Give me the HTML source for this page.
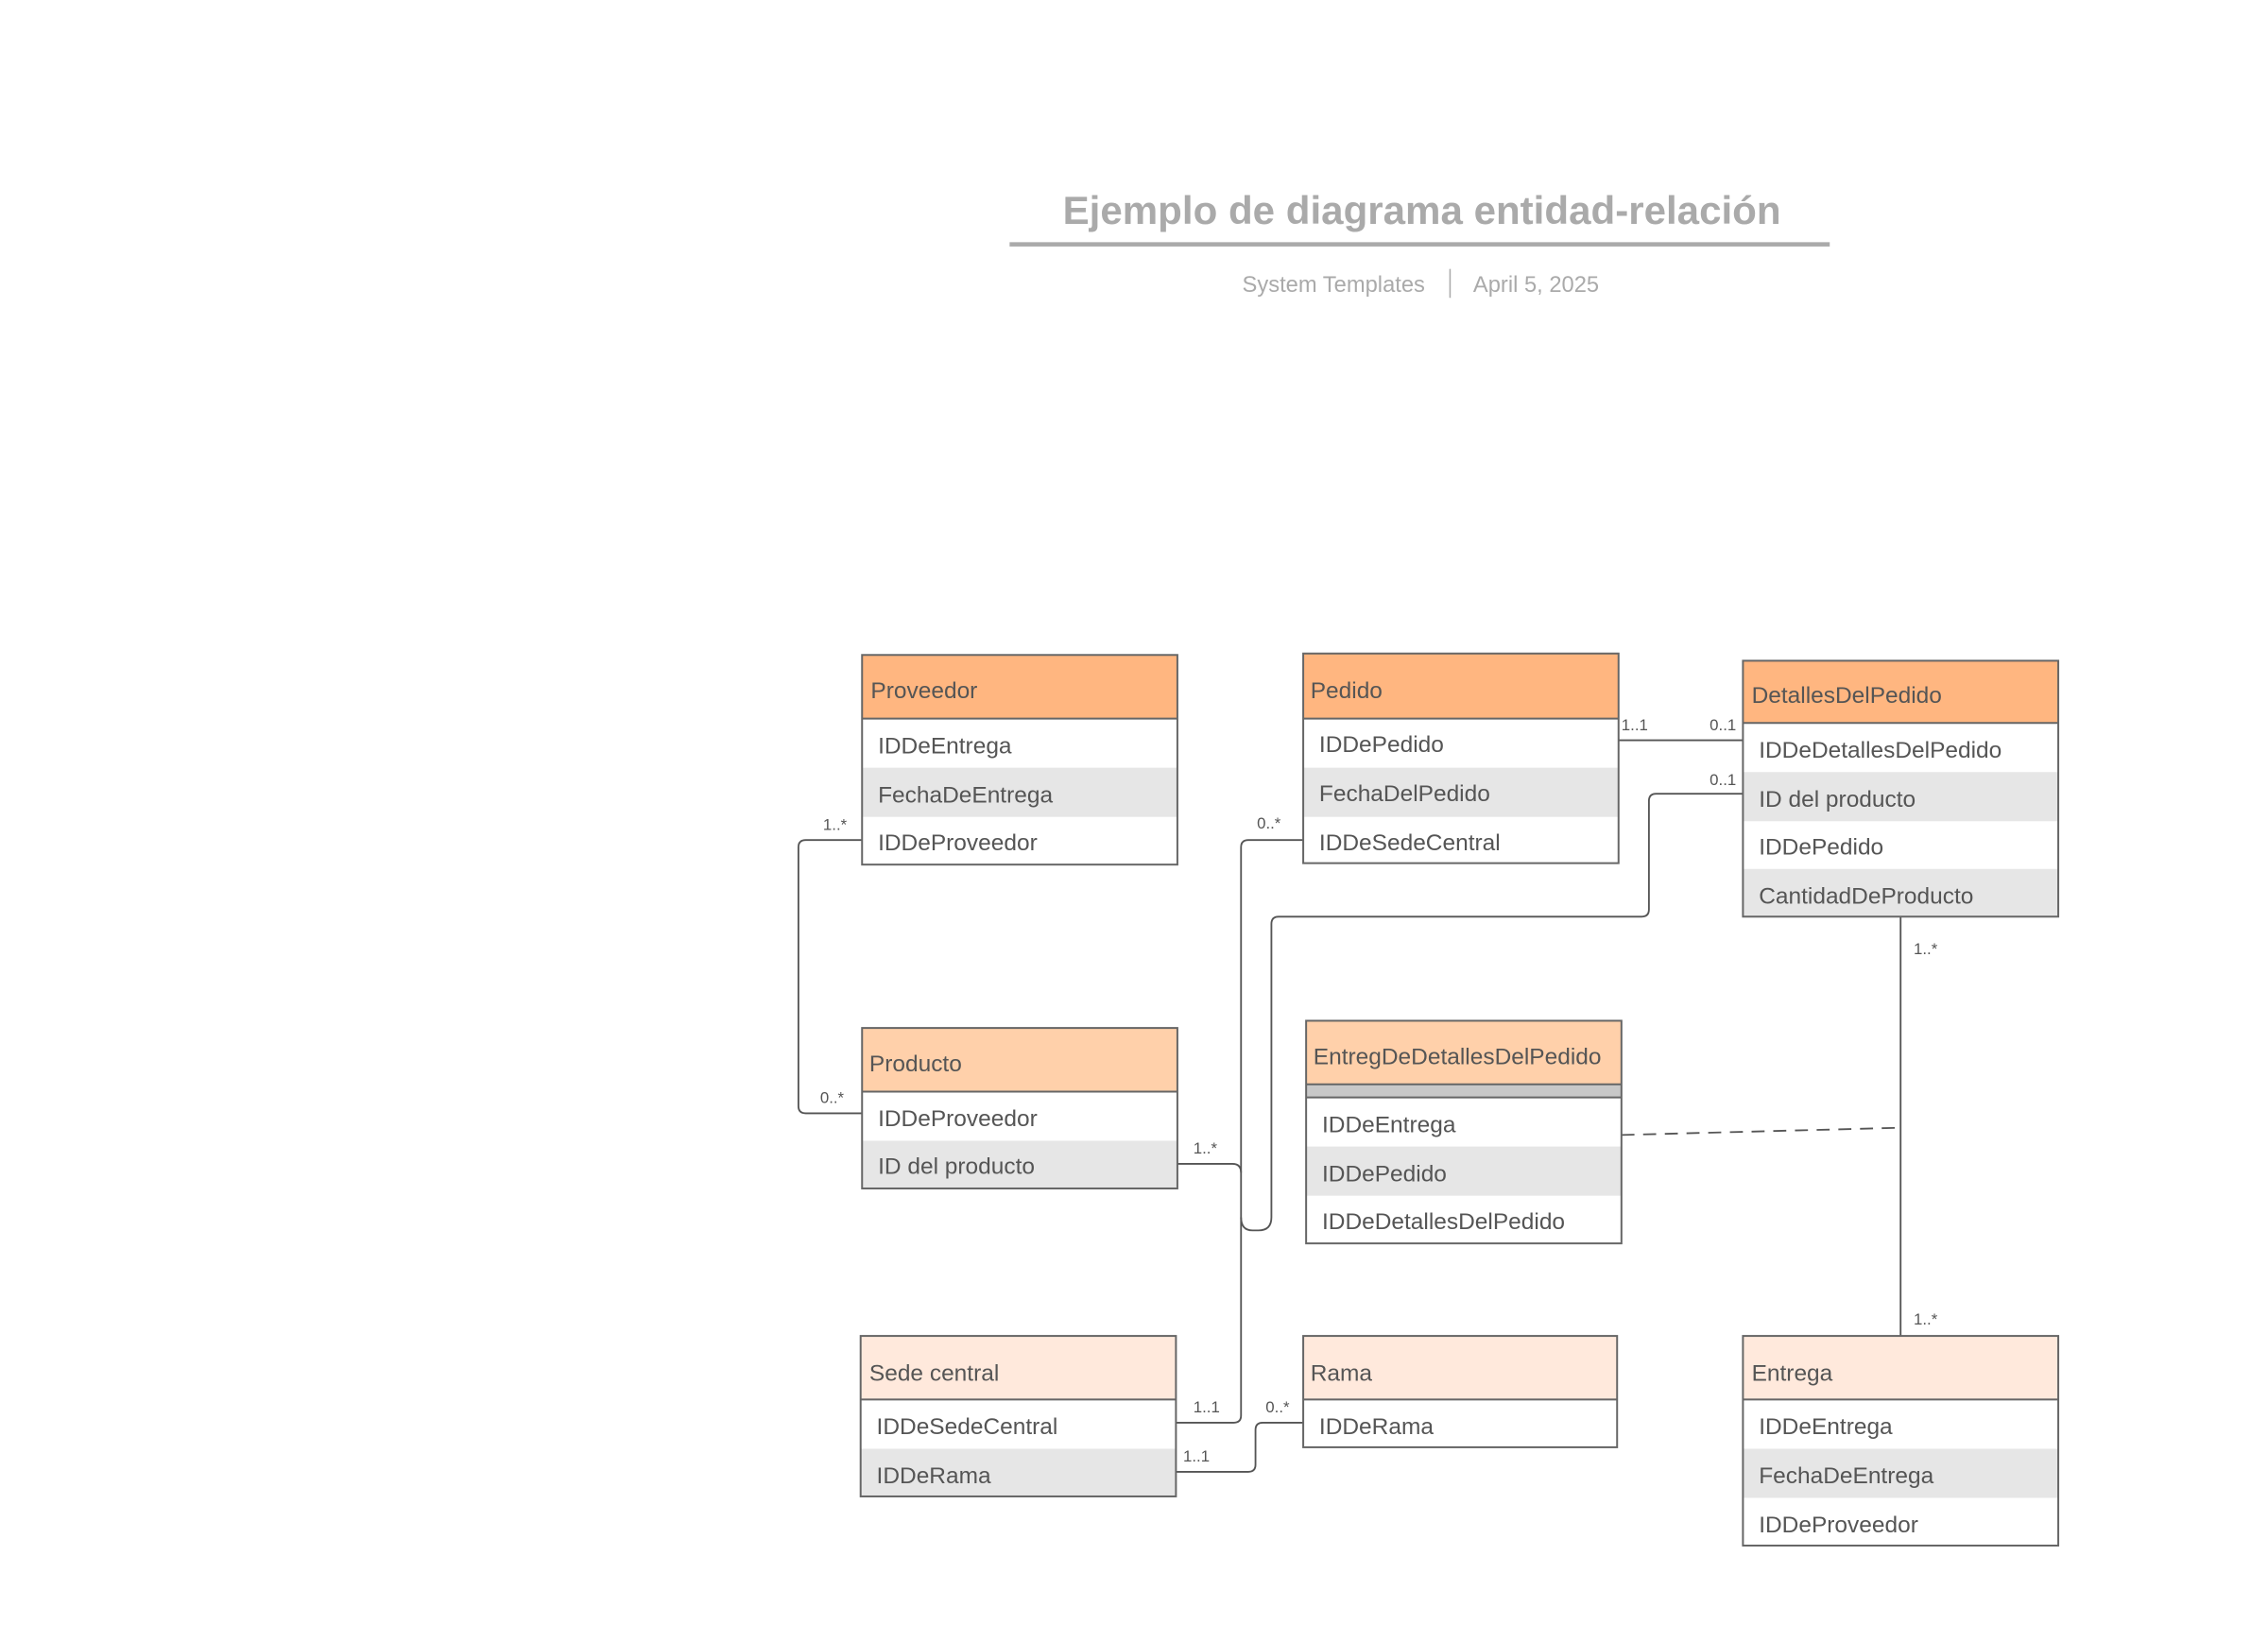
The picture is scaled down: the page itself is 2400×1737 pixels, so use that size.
<!DOCTYPE html>
<html><head><meta charset="utf-8"><style>
html,body{margin:0;padding:0;background:#fff;}
svg{display:block;}
text{font-family:"Liberation Sans",sans-serif;}
.h{font-size:16px;fill:#555;}
.r{font-size:16px;fill:#555;}
.l{font-size:11px;fill:#555;}
.b{stroke:#666;stroke-width:1.3;fill:none;}
.c{stroke:#555;stroke-width:1.2;fill:none;}
</style></head><body>
<svg width="2400" height="1737" viewBox="0 0 1568 1135" preserveAspectRatio="none" xmlns="http://www.w3.org/2000/svg">
<rect width="1568" height="1135" fill="#fff"/>
<text x="983" y="155" text-anchor="middle" font-size="27.5" font-weight="bold" fill="#aaa">Ejemplo de diagrama entidad-relación</text>
<rect x="698" y="167.5" width="567" height="3" fill="#aaa"/>
<text x="922" y="202" text-anchor="middle" font-size="15.5" fill="#aaa">System Templates</text>
<rect x="1002" y="186" width="1" height="20" fill="#aaa"/>
<text x="1062" y="202" text-anchor="middle" font-size="15.5" fill="#aaa">April 5, 2025</text>

<path class="c" d="M596,581 H557 Q552,581 552,586 V765 Q552,770 557,770 H596"/>
<path class="c" d="M901,581 H863 Q858,581 858,586 V979 Q858,984 853,984 H813"/>
<path class="c" d="M814,805 H852 Q858,805 858,811"/>
<path class="c" d="M1205,549 H1145 Q1140,549 1140,554 V629 Q1140,634 1135,634 H884 Q879,634 879,639 V842 Q879,851 870,851 H866 Q858,851 858,842"/>
<path class="c" d="M1119,512 H1205"/>
<path class="c" d="M1314,634 V924"/>
<path class="c" d="M813,1018 H863 Q868,1018 868,1013 V989 Q868,984 873,984 H901"/>
<path d="M1121,785 L1314,780" stroke="#555" stroke-width="1.2" stroke-dasharray="9,6" fill="none"/>

<text class="l" x="569" y="574">1..*</text>
<text class="l" x="567" y="763">0..*</text>
<text class="l" x="869" y="573">0..*</text>
<text class="l" x="825" y="977">1..1</text>
<text class="l" x="825" y="798">1..*</text>
<text class="l" x="1121" y="505">1..1</text>
<text class="l" x="1182" y="505">0..1</text>
<text class="l" x="1182" y="543">0..1</text>
<text class="l" x="1323" y="660">1..*</text>
<text class="l" x="1323" y="916">1..*</text>
<text class="l" x="818" y="1011">1..1</text>
<text class="l" x="875" y="977">0..*</text>

<rect x="596" y="453" width="218" height="44" fill="#FFB680"/>
<rect x="596" y="531" width="218" height="34" fill="#E6E6E6"/>
<rect class="b" x="596" y="453" width="218" height="145"/>
<line class="b" x1="596" y1="497" x2="814" y2="497"/>
<text class="h" x="602" y="483">Proveedor</text>
<text class="r" x="607" y="521">IDDeEntrega</text>
<text class="r" x="607" y="555">FechaDeEntrega</text>
<text class="r" x="607" y="588">IDDeProveedor</text>

<rect x="901" y="452" width="218" height="45" fill="#FFB680"/>
<rect x="901" y="531" width="218" height="34" fill="#E6E6E6"/>
<rect class="b" x="901" y="452" width="218" height="145"/>
<line class="b" x1="901" y1="497" x2="1119" y2="497"/>
<text class="h" x="906" y="483">Pedido</text>
<text class="r" x="912" y="520">IDDePedido</text>
<text class="r" x="912" y="554">FechaDelPedido</text>
<text class="r" x="912" y="588">IDDeSedeCentral</text>

<rect x="1205" y="457" width="218" height="43" fill="#FFB680"/>
<rect x="1205" y="534" width="218" height="34" fill="#E6E6E6"/>
<rect x="1205" y="601" width="218" height="33" fill="#E6E6E6"/>
<rect class="b" x="1205" y="457" width="218" height="177"/>
<line class="b" x1="1205" y1="500" x2="1423" y2="500"/>
<text class="h" x="1211" y="486">DetallesDelPedido</text>
<text class="r" x="1216" y="524">IDDeDetallesDelPedido</text>
<text class="r" x="1216" y="558">ID del producto</text>
<text class="r" x="1216" y="591">IDDePedido</text>
<text class="r" x="1216" y="625">CantidadDeProducto</text>

<rect x="596" y="711" width="218" height="44" fill="#FFD0AA"/>
<rect x="596" y="789" width="218" height="33" fill="#E6E6E6"/>
<rect class="b" x="596" y="711" width="218" height="111"/>
<line class="b" x1="596" y1="755" x2="814" y2="755"/>
<text class="h" x="601" y="741">Producto</text>
<text class="r" x="607" y="779">IDDeProveedor</text>
<text class="r" x="607" y="812">ID del producto</text>

<rect x="903" y="706" width="218" height="44" fill="#FFD0AA"/>
<rect x="903" y="750" width="218" height="9" fill="#C8C8C8"/>
<rect x="903" y="793" width="218" height="34" fill="#E6E6E6"/>
<rect class="b" x="903" y="706" width="218" height="154"/>
<line class="b" x1="903" y1="750" x2="1121" y2="750"/>
<line class="b" x1="903" y1="759" x2="1121" y2="759"/>
<text class="h" x="908" y="736">EntregDeDetallesDelPedido</text>
<text class="r" x="914" y="783">IDDeEntrega</text>
<text class="r" x="914" y="817">IDDePedido</text>
<text class="r" x="914" y="850">IDDeDetallesDelPedido</text>

<rect x="595" y="924" width="218" height="44" fill="#FFE9DC"/>
<rect x="595" y="1002" width="218" height="33" fill="#E6E6E6"/>
<rect class="b" x="595" y="924" width="218" height="111"/>
<line class="b" x1="595" y1="968" x2="813" y2="968"/>
<text class="h" x="601" y="955">Sede central</text>
<text class="r" x="606" y="992">IDDeSedeCentral</text>
<text class="r" x="606" y="1026">IDDeRama</text>

<rect x="901" y="924" width="217" height="44" fill="#FFE9DC"/>
<rect class="b" x="901" y="924" width="217" height="77"/>
<line class="b" x1="901" y1="968" x2="1118" y2="968"/>
<text class="h" x="906" y="955">Rama</text>
<text class="r" x="912" y="992">IDDeRama</text>

<rect x="1205" y="924" width="218" height="44" fill="#FFE9DC"/>
<rect x="1205" y="1002" width="218" height="34" fill="#E6E6E6"/>
<rect class="b" x="1205" y="924" width="218" height="145"/>
<line class="b" x1="1205" y1="968" x2="1423" y2="968"/>
<text class="h" x="1211" y="955">Entrega</text>
<text class="r" x="1216" y="992">IDDeEntrega</text>
<text class="r" x="1216" y="1026">FechaDeEntrega</text>
<text class="r" x="1216" y="1060">IDDeProveedor</text>
</svg>
</body></html>
